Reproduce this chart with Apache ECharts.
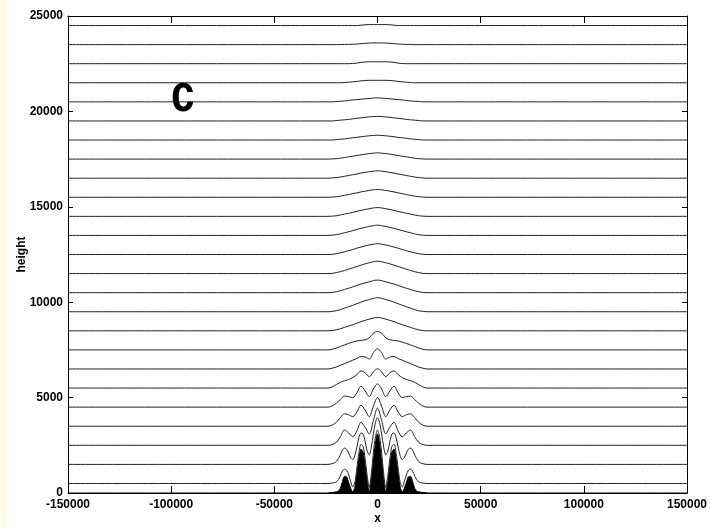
<!DOCTYPE html>
<html lang="en" style="height: 100%">
<head>
  <meta charset="utf-8">
</head>
<body style="height: 100%; margin: 0; background: #fff">
  <div id="container" style="width: 710px; height: 527px"></div>
  <script type="text/javascript" src="https://cdn.jsdelivr.net/npm/echarts@6/dist/echarts.min.js"></script>
  <script type="text/javascript">
    // x positions (m): fine grid for the terrain and the two lowest streamlines
    var xFine = [-150000, -24000, -23000, -22000, -21000, -20000, -19000, -18000, -17000, -16000, -15000,
      -14000, -13000, -12000, -11000, -10000, -9000, -8000, -7000, -6000, -5000, -4000, -3000, -2000, -1000,
      0, 1000, 2000, 3000, 4000, 5000, 6000, 7000, 8000, 9000, 10000, 11000, 12000, 13000, 14000, 15000,
      16000, 17000, 18000, 19000, 20000, 21000, 22000, 23000, 24000, 150000];
    // coarse grid for the upper streamlines
    var xCoarse = [-150000, -24000, -22000, -20000, -18000, -16000, -14000, -12000, -10000, -8000, -6000,
      -4000, -2000, 0, 2000, 4000, 6000, 8000, 10000, 12000, 14000, 16000, 18000, 20000, 22000, 24000, 150000];

    var terrain = [0, 0, 20, 30, 40, 60, 100, 250, 600, 870, 850, 550, 250, 60, 300, 1000, 1800, 2300, 2150,
      1450, 600, 60, 700, 1700, 2600, 3100, 2600, 1700, 700, 60, 600, 1450, 2150, 2300, 1800, 1000, 300, 60,
      250, 550, 850, 870, 600, 250, 100, 60, 40, 30, 20, 0, 0];

    var line500 = [500, 500, 510, 520, 540, 580, 700, 900, 1150, 1250, 1200, 950, 600, 320, 550, 1300, 2100,
      2550, 2450, 1800, 900, 280, 1000, 2100, 2950, 3300, 2950, 2100, 1000, 280, 900, 1800, 2450, 2550, 2100,
      1300, 550, 320, 600, 950, 1200, 1250, 1150, 900, 700, 580, 540, 520, 510, 500, 500];
    var line1500 = [1500, 1500, 1510, 1540, 1570, 1650, 1800, 2000, 2250, 2350, 2300, 2100, 1850, 1750, 1950,
      2400, 2900, 3150, 3100, 2700, 2200, 2000, 2400, 3100, 3700, 3950, 3700, 3100, 2400, 2000, 2200, 2700,
      3100, 3150, 2900, 2400, 1950, 1750, 1850, 2100, 2300, 2350, 2250, 2000, 1800, 1650, 1570, 1540, 1510,
      1500, 1500];

    var line2500 = [2500, 2500, 2540, 2650, 2950, 3300, 3150, 2950, 3250, 3700, 3450, 3100, 3800, 4450, 3800, 3100, 3450, 3700, 3250, 2950, 3150, 3300, 2950, 2650, 2540, 2500, 2500];
    var line3500 = [3500, 3500, 3560, 3700, 3950, 4150, 4100, 4000, 4250, 4600, 4350, 4000, 4550, 5000, 4550, 4000, 4350, 4600, 4250, 4000, 4100, 4150, 3950, 3700, 3560, 3500, 3500];
    var line4500 = [4500, 4500, 4560, 4700, 4900, 5080, 5050, 5000, 5250, 5600, 5350, 5050, 5450, 5720, 5450, 5050, 5350, 5600, 5250, 5000, 5050, 5080, 4900, 4700, 4560, 4500, 4500];
    var line5500 = [5500, 5500, 5560, 5680, 5800, 5880, 5950, 6050, 6200, 6400, 6300, 6100, 6350, 6510, 6350, 6100, 6300, 6400, 6200, 6050, 5950, 5880, 5800, 5680, 5560, 5500, 5500];
    var line6500 = [6500, 6500, 6540, 6600, 6690, 6780, 6870, 6960, 7050, 7150, 7130, 7020, 7350, 7560, 7350, 7020, 7130, 7150, 7050, 6960, 6870, 6780, 6690, 6600, 6540, 6500, 6500];
    var line7500 = [7500, 7500, 7530, 7600, 7680, 7760, 7840, 7910, 7970, 8000, 8030, 8130, 8380, 8460, 8380, 8130, 8030, 8000, 7970, 7910, 7840, 7760, 7680, 7600, 7530, 7500, 7500];
    var line8500 = [8500, 8500, 8510, 8550, 8610, 8680, 8750, 8820, 8900, 8980, 9050, 9110, 9170, 9200, 9170, 9110, 9050, 8980, 8900, 8820, 8750, 8680, 8610, 8550, 8510, 8500, 8500];
    var line9500 = [9500, 9500, 9520, 9550, 9610, 9690, 9760, 9840, 9920, 10000, 10080, 10140, 10200, 10240, 10200, 10140, 10080, 10000, 9920, 9840, 9760, 9690, 9610, 9550, 9520, 9500, 9500];
    var line10500 = [10500, 10500, 10510, 10550, 10600, 10670, 10730, 10800, 10880, 10950, 11010, 11070, 11130, 11160, 11130, 11070, 11010, 10950, 10880, 10800, 10730, 10670, 10600, 10550, 10510, 10500, 10500];
    var line11500 = [11500, 11500, 11510, 11550, 11600, 11660, 11730, 11800, 11870, 11940, 12010, 12070, 12120, 12150, 12120, 12070, 12010, 11940, 11870, 11800, 11730, 11660, 11600, 11550, 11510, 11500, 11500];
    var line12500 = [12500, 12500, 12510, 12540, 12590, 12640, 12700, 12760, 12830, 12890, 12950, 13000, 13040, 13070, 13040, 13000, 12950, 12890, 12830, 12760, 12700, 12640, 12590, 12540, 12510, 12500, 12500];
    var line13500 = [13500, 13500, 13510, 13540, 13580, 13640, 13690, 13750, 13810, 13870, 13920, 13970, 14010, 14040, 14010, 13970, 13920, 13870, 13810, 13750, 13690, 13640, 13580, 13540, 13510, 13500, 13500];
    var line14500 = [14500, 14500, 14510, 14530, 14570, 14620, 14660, 14710, 14760, 14810, 14860, 14900, 14940, 14960, 14940, 14900, 14860, 14810, 14760, 14710, 14660, 14620, 14570, 14530, 14510, 14500, 14500];
    var line15500 = [15500, 15500, 15510, 15530, 15560, 15600, 15640, 15690, 15730, 15780, 15820, 15860, 15890, 15910, 15890, 15860, 15820, 15780, 15730, 15690, 15640, 15600, 15560, 15530, 15510, 15500, 15500];
    var line16500 = [16500, 16500, 16510, 16530, 16560, 16600, 16640, 16680, 16720, 16770, 16800, 16840, 16870, 16890, 16870, 16840, 16800, 16770, 16720, 16680, 16640, 16600, 16560, 16530, 16510, 16500, 16500];
    var line17500 = [17500, 17500, 17510, 17520, 17550, 17580, 17620, 17650, 17690, 17720, 17760, 17790, 17810, 17830, 17810, 17790, 17760, 17720, 17690, 17650, 17620, 17580, 17550, 17520, 17510, 17500, 17500];
    var line18500 = [18500, 18500, 18500, 18520, 18540, 18560, 18590, 18620, 18640, 18670, 18700, 18720, 18740, 18750, 18740, 18720, 18700, 18670, 18640, 18620, 18590, 18560, 18540, 18520, 18500, 18500, 18500];
    var line19500 = [19500, 19500, 19500, 19520, 19540, 19560, 19580, 19610, 19640, 19660, 19690, 19710, 19730, 19740, 19730, 19710, 19690, 19660, 19640, 19610, 19580, 19560, 19540, 19520, 19500, 19500, 19500];
    var line20500 = [20500, 20500, 20500, 20520, 20530, 20550, 20570, 20600, 20620, 20640, 20660, 20680, 20700, 20710, 20700, 20680, 20660, 20640, 20620, 20600, 20570, 20550, 20530, 20520, 20500, 20500, 20500];
    var line21500 = [21500, 21500, 21500, 21500, 21500, 21510, 21530, 21550, 21570, 21600, 21620, 21630, 21630, 21630, 21630, 21630, 21620, 21600, 21570, 21550, 21530, 21510, 21500, 21500, 21500, 21500, 21500];
    var line22500 = [22500, 22500, 22500, 22500, 22500, 22500, 22500, 22510, 22530, 22570, 22590, 22600, 22600, 22600, 22600, 22600, 22590, 22570, 22530, 22510, 22500, 22500, 22500, 22500, 22500, 22500, 22500];
    var line23500 = [23500, 23500, 23500, 23500, 23500, 23510, 23510, 23520, 23530, 23550, 23570, 23580, 23590, 23590, 23590, 23580, 23570, 23550, 23530, 23520, 23510, 23510, 23500, 23500, 23500, 23500, 23500];
    var line24500 = [24500, 24500, 24500, 24500, 24500, 24500, 24500, 24500, 24500, 24520, 24540, 24550, 24550, 24550, 24550, 24550, 24540, 24520, 24500, 24500, 24500, 24500, 24500, 24500, 24500, 24500, 24500];

    var fineLines = [line500, line1500];
    var coarseLines = [line2500, line3500, line4500, line5500, line6500, line7500, line8500, line9500,
      line10500, line11500, line12500, line13500, line14500, line15500, line16500, line17500, line18500,
      line19500, line20500, line21500, line22500, line23500, line24500];

    var xTicks = [-150000, -100000, -50000, 0, 50000, 100000, 150000];
    var yTicks = [0, 5000, 10000, 15000, 20000, 25000];

    var dom = document.getElementById('container');
    var myChart = echarts.init(dom, null, { renderer: 'canvas' });

    function pairs(xs, ys) {
      return xs.map(function (x, i) { return [x, ys[i]]; });
    }
    function plain(v) { return String(v); }

    var labelFont = { fontFamily: 'Liberation Sans', fontWeight: 'bold', fontSize: 12, color: '#000' };

    var series = [{
      type: 'line',
      data: pairs(xFine, terrain),
      smooth: 0.3,
      showSymbol: false,
      lineStyle: { color: '#000', width: 1 },
      areaStyle: { color: '#000', opacity: 1 },
      z: 2
    }];
    fineLines.forEach(function (ys) {
      series.push({
        type: 'line', data: pairs(xFine, ys), smooth: 0.3, showSymbol: false,
        lineStyle: { color: '#222', width: 1 }, z: 3
      });
    });
    coarseLines.forEach(function (ys) {
      series.push({
        type: 'line', data: pairs(xCoarse, ys), smooth: 0.35, showSymbol: false,
        lineStyle: { color: '#222', width: 1 }, z: 3
      });
    });

    var option = {
      animation: false,
      backgroundColor: '#fff',
      grid: { left: 68, right: 23, top: 16, bottom: 34, outerBoundsMode: 'none', containLabel: false },
      graphic: [
        { type: 'rect', shape: { x: 0, y: 0, width: 7, height: 527 }, style: { fill: '#fffde6' }, silent: true },
        {
          type: 'text', x: 171, y: 69, scaleX: 0.78,
          style: { text: 'c', font: 'bold 54px "Liberation Sans"', fill: '#000', textVerticalAlign: 'top' }
        }
      ],
      xAxis: [{
        type: 'value', min: xTicks[0], max: xTicks[xTicks.length - 1], interval: 50000,
        name: 'x', nameLocation: 'middle', nameGap: 20, nameMoveOverlap: false,
        nameTextStyle: labelFont,
        axisLine: { onZero: false, lineStyle: { color: '#000', width: 1 } },
        axisTick: { inside: true, length: 7, lineStyle: { color: '#000' } },
        axisLabel: Object.assign({ margin: 6, formatter: plain }, labelFont),
        splitLine: { show: false }
      }, {
        type: 'value', position: 'top', min: xTicks[0], max: xTicks[xTicks.length - 1], interval: 50000,
        axisLine: { onZero: false, lineStyle: { color: '#000', width: 1 } },
        axisTick: { inside: true, length: 7, lineStyle: { color: '#000' } },
        axisLabel: { show: false },
        splitLine: { show: false }
      }],
      yAxis: [{
        type: 'value', min: yTicks[0], max: yTicks[yTicks.length - 1], interval: 5000,
        name: 'height', nameLocation: 'middle', nameGap: 40, nameMoveOverlap: false,
        nameTextStyle: labelFont,
        axisLine: { show: true, onZero: false, lineStyle: { color: '#000', width: 1 } },
        axisTick: { show: true, inside: true, length: 5, lineStyle: { color: '#000' } },
        axisLabel: Object.assign({ margin: 5, formatter: plain }, labelFont),
        splitLine: { show: false }
      }, {
        type: 'value', position: 'right', min: yTicks[0], max: yTicks[yTicks.length - 1], interval: 5000,
        axisLine: { show: true, onZero: false, lineStyle: { color: '#000', width: 1 } },
        axisTick: { show: true, inside: true, length: 5, lineStyle: { color: '#000' } },
        axisLabel: { show: false },
        splitLine: { show: false }
      }],
      series: series
    };

    myChart.setOption(option);
    window.addEventListener('resize', myChart.resize);
  </script>
</body>
</html>
